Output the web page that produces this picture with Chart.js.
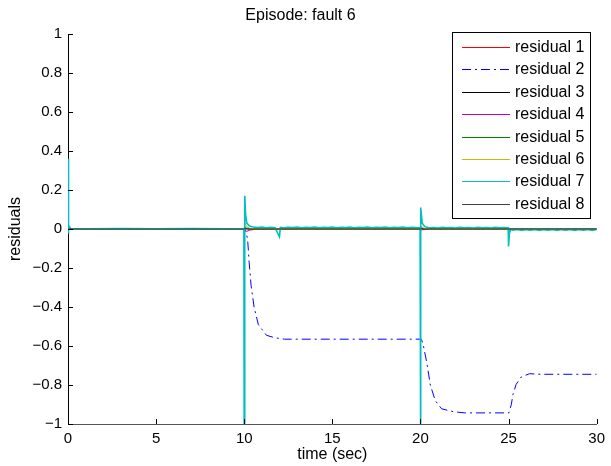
<!DOCTYPE html>
<html>
<head>
<meta charset="utf-8">
<script src="https://cdn.jsdelivr.net/npm/chart.js@4/dist/chart.umd.min.js"></script>
<style>
  html, body { margin: 0; padding: 0; background: #fff; }
  #wrap { width: 611px; height: 466px; }
</style>
</head>
<body>
<div id="wrap"><canvas id="c" width="611" height="466"></canvas></div>
<script>
// ---- data ----
const seriesLabels = ['residual 1','residual 2','residual 3','residual 4','residual 5','residual 6','residual 7','residual 8'];
const xTickValues = [0, 5, 10, 15, 20, 25, 30];
const yTickValues = [-1, -0.8, -0.6, -0.4, -0.2, 0, 0.2, 0.4, 0.6, 0.8, 1];

// residuals that stay near zero
const flatTime = [0, 9.98, 10.05, 10.15, 10.3, 10.6, 12, 19.98, 20.05, 20.2, 20.5, 24.98, 25.05, 25.2, 30];
const r1Vals = [0, 0, 0.004, 0.002, 0.001, 0, 0, 0, 0.003, 0.001, 0, 0, -0.003, 0, 0];
const r3Vals = [0, 0, 0.002, 0.001, 0, 0, 0, 0, 0.002, 0, 0, 0, -0.002, 0, 0];
const r4Vals = [0, 0, -0.006, -0.012, -0.006, -0.002, 0, 0, -0.005, -0.003, 0, 0, 0.003, 0, 0];
const r5Vals = [0, 0, 0.01, 0.004, 0.001, 0, 0, 0, 0.006, 0.002, 0, 0, -0.004, 0, 0];
const r6Vals = [0, 0, 0.03, 0.012, 0.004, 0.001, 0, 0, 0.015, 0.004, 0, 0, -0.006, 0, 0];
const r8Vals = [0, 0, 0.002, 0.001, 0, 0, 0, 0, 0.001, 0, 0, 0, -0.001, 0, 0];

// residual 2 (dash-dot blue)
const r2Time = [0, 10.05, 10.19, 10.28, 10.39, 10.56, 10.8, 11.26, 11.74, 12.3, 20.05, 20.15, 20.37, 20.56, 20.84, 21.2, 21.87, 22.5, 25.02, 25.16, 25.25, 25.43, 25.72, 26.19, 26.8, 30];
const r2Vals = [0, 0, -0.05, -0.17, -0.29, -0.40, -0.49, -0.545, -0.558, -0.565, -0.565, -0.59, -0.69, -0.80, -0.88, -0.922, -0.937, -0.943, -0.943, -0.899, -0.848, -0.797, -0.759, -0.742, -0.745, -0.745];

// residual 7 (cyan, noisy with spikes)
const r7Time = [0, 0.01, 0.05, 0.15, 1, 3, 5, 7, 9, 9.98,
  10.0, 10.03, 10.08, 10.15, 10.3, 10.5,
  10.75, 11.0, 11.25, 11.5, 11.75,
  12.0, 12.05,
  12.25, 12.5, 12.75, 13.0, 13.25, 13.5, 13.75, 14.0, 14.25, 14.5, 14.75, 15.0, 15.25, 15.5, 15.75, 16.0,
  16.25, 16.5, 16.75, 17.0, 17.25, 17.5, 17.75, 18.0, 18.25, 18.5, 18.75, 19.0, 19.25, 19.5, 19.75, 19.98,
  20.0, 20.03, 20.1, 20.25,
  20.5, 20.75, 21.0, 21.25, 21.5, 21.75, 22.0, 22.25, 22.5, 22.75, 23.0, 23.25, 23.5, 23.75, 24.0, 24.25, 24.5, 24.75, 24.98,
  25.0, 25.05, 25.15,
  25.25, 25.5, 25.75, 26.0, 26.25, 26.5, 26.75, 27.0, 27.25, 27.5, 27.75, 28.0, 28.25, 28.5, 28.75, 29.0, 29.25, 29.5, 29.75, 30.0];
const r7Vals = [-0.02, 0.36, 0.02, 0.002, 0.001, 0.002, 0.001, 0.002, 0.001, 0.002,
  -1.2, 0.17, 0.07, 0.03, 0.015, 0.01,
  0.007, 0.010, 0.006, 0.009, 0.007,
  -0.04, 0.008,
  0.006, 0.009, 0.007, 0.010, 0.006, 0.009, 0.007, 0.010, 0.006, 0.009, 0.007, 0.010, 0.006, 0.009, 0.007, 0.010,
  0.006, 0.009, 0.007, 0.010, 0.006, 0.009, 0.007, 0.010, 0.006, 0.009, 0.007, 0.010, 0.006, 0.009, 0.007, 0.006,
  -1.2, 0.11, 0.03, 0.012,
  0.006, 0.008, 0.005, 0.009, 0.006, 0.008, 0.005, 0.009, 0.006, 0.008, 0.005, 0.009, 0.006, 0.008, 0.005, 0.009, 0.006, 0.008, 0.006,
  -0.09, -0.02, 0.0,
  -0.006, -0.002, -0.007, -0.003, -0.006, -0.002, -0.007, -0.003, -0.006, -0.002, -0.007, -0.003, -0.006, -0.002, -0.007, -0.003, -0.006, -0.002, -0.007, -0.003];

const seriesColors = ['#ff0000', '#0000ff', '#000000', '#bf00bf', '#008000', '#bfbf00', '#00bfbf', '#404040'];

// ---- build datasets ----
function pts(t, v) { return t.map((x, i) => ({ x: x, y: v[i] })); }
const seriesData = [
  pts(flatTime, r1Vals), pts(r2Time, r2Vals), pts(flatTime, r3Vals), pts(flatTime, r4Vals),
  pts(flatTime, r5Vals), pts(flatTime, r6Vals), pts(r7Time, r7Vals), pts(flatTime, r8Vals)
];
const datasets = seriesLabels.map((lab, i) => ({
  label: lab,
  data: seriesData[i],
  borderColor: seriesColors[i],
  backgroundColor: seriesColors[i],
  borderWidth: (i === 6) ? 1.6 : 1,
  borderDash: (i === 1) ? [9, 4, 2, 4] : [],
  pointRadius: 0,
  tension: 0,
  fill: false,
  order: 7 - i
}));

const FONT = '"Liberation Sans", Arial, Helvetica, sans-serif';

function fmt(v) {
  const r = Math.round(v * 10) / 10;
  return String(r).replace('-', '\u2212');
}

const matlabDecor = {
  id: 'matlabDecor',
  afterDatasetsDraw(chart) {
    const ctx = chart.ctx;
    const xs = chart.scales.x, ys = chart.scales.y;
    const a = chart.chartArea;
    ctx.save();
    ctx.strokeStyle = '#000';
    ctx.lineWidth = 1;
    ctx.setLineDash([]);
    ctx.beginPath();
    yTickValues.forEach(v => {
      const y = Math.round(ys.getPixelForValue(v)) + 0.5;
      ctx.moveTo(a.left, y); ctx.lineTo(a.left + 5, y);
    });
    xTickValues.forEach(v => {
      const x = Math.round(xs.getPixelForValue(v)) + 0.5;
      ctx.moveTo(x, a.bottom); ctx.lineTo(x, a.bottom - 5);
    });
    ctx.stroke();

    // legend box
    const bx = 452.5, by = 32.5, bw = 138, bh = 186;
    ctx.fillStyle = '#fff';
    ctx.fillRect(bx, by, bw, bh);
    ctx.strokeStyle = '#000';
    ctx.strokeRect(bx, by, bw, bh);
    ctx.font = '16px ' + FONT;
    ctx.textBaseline = 'middle';
    ctx.textAlign = 'left';
    seriesLabels.forEach((lab, i) => {
      const yy = Math.round(47 + i * 22.4) + 0.5;
      ctx.beginPath();
      ctx.strokeStyle = seriesColors[i];
      ctx.lineWidth = 1;
      ctx.setLineDash(i === 1 ? [9, 4, 2, 4] : []);
      ctx.moveTo(462, yy);
      ctx.lineTo(510, yy);
      ctx.stroke();
      ctx.setLineDash([]);
      ctx.fillStyle = '#000';
      ctx.fillText(lab, 515, yy);
    });
    ctx.restore();
  }
};

new Chart(document.getElementById('c'), {
  type: 'line',
  data: { datasets: datasets },
  options: {
    responsive: false,
    animation: false,
    devicePixelRatio: 1,
    layout: { padding: { left: 0, right: 10, top: 0, bottom: 0 } },
    plugins: {
      legend: { display: false },
      tooltip: { enabled: false },
      title: {
        display: true,
        text: 'Episode: fault 6',
        color: '#000',
        font: { family: FONT, size: 16, weight: 'normal' },
        padding: { top: 6, bottom: 8.8 }
      }
    },
    scales: {
      x: {
        type: 'linear',
        min: 0, max: 30,
        afterBuildTicks: s => { s.ticks = xTickValues.map(v => ({ value: v })); },
        afterFit: s => { s.height = 42; },
        grid: { display: false, drawTicks: false },
        border: { display: true, color: '#555', width: 1 },
        ticks: { color: '#000', font: { family: FONT, size: 15 }, padding: 6, maxRotation: 0, autoSkip: false,
                 callback: v => String(v) },
        title: { display: true, text: 'time (sec)', color: '#000', font: { family: FONT, size: 16 }, padding: { top: 0, bottom: 2 } }
      },
      y: {
        type: 'linear',
        min: -1, max: 1,
        afterBuildTicks: s => { s.ticks = yTickValues.map(v => ({ value: v })); },
        afterFit: s => { s.width = 68; },
        grid: { display: false, drawTicks: false },
        border: { display: true, color: '#000', width: 1 },
        ticks: { color: '#000', font: { family: FONT, size: 15 }, padding: 6, autoSkip: false,
                 callback: v => fmt(v) },
        title: { display: true, text: 'residuals', color: '#000', font: { family: FONT, size: 16 }, padding: { top: 6, bottom: 0 } }
      }
    }
  },
  plugins: [matlabDecor]
});
</script>
</body>
</html>
